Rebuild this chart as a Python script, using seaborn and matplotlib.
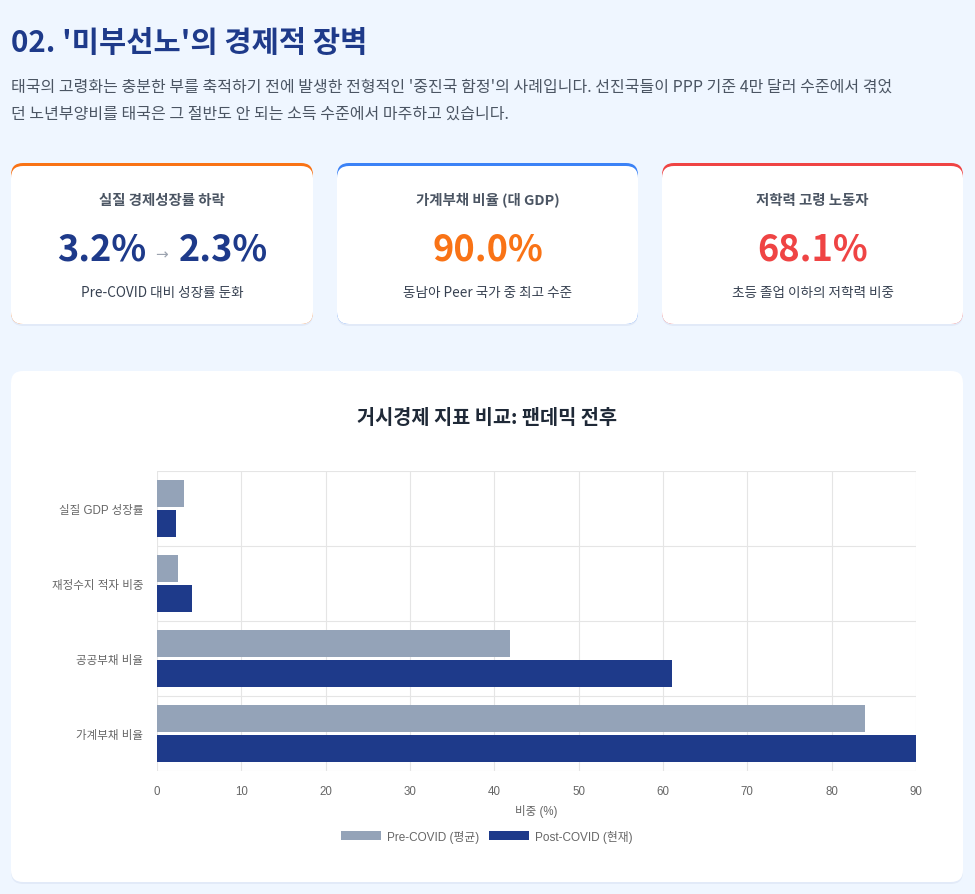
import pandas as pd
import matplotlib.pyplot as plt
import seaborn as sns
from matplotlib.patches import FancyBboxPatch

# 데이터
indicators = ["실질 GDP 성장률", "재정수지 적자 비중", "공공부채 비율", "가계부채 비율"]
pre_covid = [3.2, 2.5, 41.8, 84.0]
post_covid = [2.3, 4.1, 61.1, 90.0]
series_names = ["Pre-COVID (평균)", "Post-COVID (현재)"]

card_titles = ["실질 경제성장률 하락", "가계부채 비율 (대 GDP)", "저학력 고령 노동자"]
card_values = ["90.0%", "68.1%"]
card_subs = ["Pre-COVID 대비 성장률 둔화", "동남아 Peer 국가 중 최고 수준", "초등 졸업 이하의 저학력 비중"]

heading = "02. '미부선노'의 경제적 장벽"
para = ["태국의 고령화는 충분한 부를 축적하기 전에 발생한 전형적인 '중진국 함정'의 사례입니다. 선진국들이 PPP 기준 4만 달러 수준에서 겪었",
        "던 노년부양비를 태국은 그 절반도 안 되는 소득 수준에서 마주하고 있습니다."]

df = pd.DataFrame({
    "지표": indicators * 2,
    "값": pre_covid + post_covid,
    "구분": [series_names[0]] * 4 + [series_names[1]] * 4,
})

# 스타일
sns.set_style("white")
plt.rcParams['font.family'] = ['Noto Sans CJK KR', 'DejaVu Sans']
KR = ['Noto Sans CJK KR', 'DejaVu Sans']
CHART = ['Liberation Sans', 'Noto Sans CJK KR']

BG = "#eff6ff"
NAVY = "#1e3a8a"
PRE = "#94a3b8"
GRID = "#e5e5e5"

W, H = 975, 895
fig = plt.figure(figsize=(W / 100, H / 100), dpi=100, facecolor=BG)

# 픽셀 좌표 배경 축
bg = fig.add_axes([0, 0, 1, 1])
bg.set_xlim(0, W)
bg.set_ylim(H, 0)
bg.axis("off")


def card(x0, y0, x1, y1, r=12, top=None):
    # 그림자
    bg.add_patch(FancyBboxPatch((x0 + r, y0 + r + 2), x1 - x0 - 2 * r, y1 - y0 - 2 * r,
                                boxstyle=f"round,pad={r}", fc="#1e3a8a", ec="none", alpha=0.06, zorder=1))
    if top:
        bg.add_patch(FancyBboxPatch((x0 + r, y0 + r), x1 - x0 - 2 * r, y1 - y0 - 2 * r,
                                    boxstyle=f"round,pad={r}", fc=top, ec="none", zorder=2))
        y0 += 3
    bg.add_patch(FancyBboxPatch((x0 + r, y0 + r), x1 - x0 - 2 * r, y1 - y0 - 2 * r,
                                boxstyle=f"round,pad={r}", fc="white", ec="none", zorder=3))


# 제목 및 설명
bg.text(11, 43, heading, fontsize=21.3, fontweight="bold", color=NAVY, va="center", ha="left", family=KR)
bg.text(11, 87, para[0], fontsize=11.5, color="#4b5563", va="center", ha="left", family=KR)
bg.text(11, 114, para[1], fontsize=11.5, color="#4b5563", va="center", ha="left", family=KR)

# KPI 카드
cards_x = [(11, 313), (337, 638), (662, 963)]
tops = ["#f97316", "#3b82f6", "#ef4444"]
for (x0, x1), c, t, s in zip(cards_x, tops, card_titles, card_subs):
    card(x0, 164, x1, 325, top=c)
    cx = (x0 + x1) / 2
    bg.text(cx, 201, t, fontsize=10.4, fontweight="bold", color="#4b5563", ha="center", va="center", zorder=5)
    bg.text(cx, 293, s, fontsize=9.8, color="#374151", ha="center", va="center", zorder=5)

bg.text(146, 260, "3.2%", fontsize=26, fontweight="bold", color=NAVY, ha="right", va="baseline", zorder=5)
bg.text(161.5, 259, "→", fontsize=11, color="#9ca3af", ha="center", va="baseline", zorder=5, family=['DejaVu Sans'])
bg.text(179, 260, "2.3%", fontsize=26, fontweight="bold", color=NAVY, ha="left", va="baseline", zorder=5)
bg.text(487.5, 260, card_values[0], fontsize=26, fontweight="bold", color="#f97316", ha="center", va="baseline", zorder=5)
bg.text(812.5, 260, card_values[1], fontsize=26, fontweight="bold", color="#ef4444", ha="center", va="baseline", zorder=5)

# 차트 카드
card(11, 372, 963, 883)
bg.text(487, 418, "거시경제 지표 비교: 팬데믹 전후", fontsize=14.2, fontweight="bold", color="#1f2937",
        ha="center", va="center", zorder=5)

# 막대 그래프
px0, px1, py0, py1 = 157, 916, 472, 772
ax = fig.add_axes([px0 / W, 1 - py1 / H, (px1 - px0) / W, (py1 - py0) / H])
ax.set_zorder(10)
ax.patch.set_alpha(0)
sns.barplot(data=df, x="값", y="지표", hue="구분", orient="h", palette=[PRE, NAVY],
            width=0.8, gap=0.1, saturation=1, ax=ax, edgecolor="none", linewidth=0)

ax.set_xlim(0, 90)
ax.set_ylim(3.5, -0.5)
ax.set_xticks(range(0, 91, 10))
ax.set_yticks([-0.5, 0.5, 1.5, 2.5, 3.5], minor=True)
ax.grid(True, axis="x", color=GRID, lw=0.8, zorder=0)
ax.grid(True, axis="y", which="minor", color=GRID, lw=0.8, zorder=0)
ax.set_axisbelow(True)
for sp in ax.spines.values():
    sp.set_visible(False)
ax.tick_params(axis="y", which="major", length=0, pad=10, labelsize=8.3, labelcolor="#666666")
ax.tick_params(axis="y", which="minor", length=8, color=GRID, width=0.8)
ax.tick_params(axis="x", length=6, color=GRID, width=0.8, pad=4, labelsize=8.3, labelcolor="#666666")
for lab in ax.get_xticklabels() + ax.get_yticklabels():
    lab.set_family(CHART)
ax.set_ylabel("")
ax.set_xlabel("비중 (%)", fontsize=8.3, color="#666666", family=CHART, labelpad=5)

handles, labels = ax.get_legend_handles_labels()
ax.get_legend().remove()
leg = ax.legend(handles, labels, loc="center", bbox_to_anchor=(487 / W, 1 - 837 / H),
                bbox_transform=fig.transFigure, ncol=2, frameon=False,
                handlelength=3.4, handleheight=0.85, handletextpad=0.5, columnspacing=0.8,
                prop={"family": CHART, "size": 8.5})
for txt in leg.get_texts():
    txt.set_color("#666666")

plt.savefig("out.png", dpi=100, facecolor=BG)
